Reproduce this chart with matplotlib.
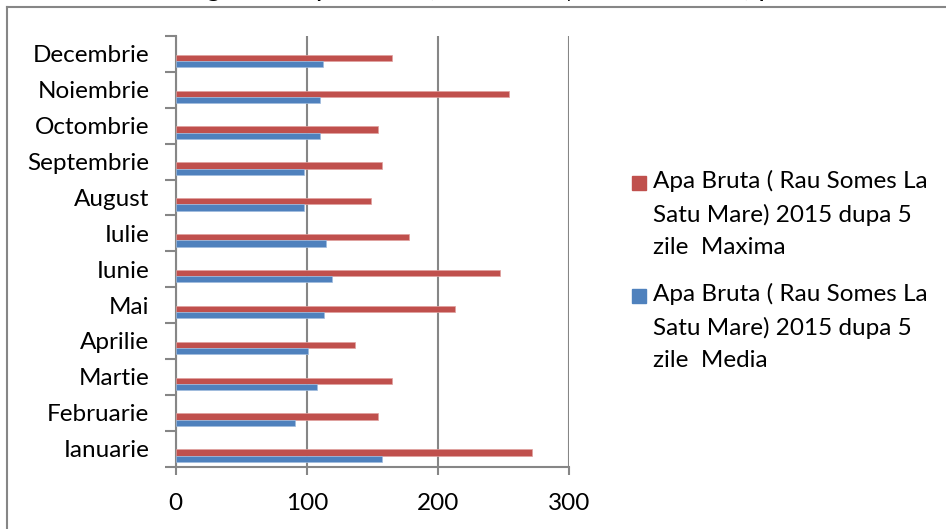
import numpy as np
import matplotlib.pyplot as plt
from matplotlib.patches import Rectangle

plt.rcParams['font.family'] = ['Lato', 'DejaVu Sans']

# data
luni = ['Ianuarie', 'Februarie', 'Martie', 'Aprilie', 'Mai', 'Iunie',
        'Iulie', 'August', 'Septembrie', 'Octombrie', 'Noiembrie', 'Decembrie']
maxima = [272, 154, 165, 137, 213, 247, 178, 149, 157, 154, 254, 165]
media = [157, 91, 108, 101, 113, 119, 115, 98, 98, 110, 110, 112]
serii = ['Apa Bruta ( Rau Somes La\nSatu Mare) 2015 dupa 5\nzile  Maxima',
         'Apa Bruta ( Rau Somes La\nSatu Mare) 2015 dupa 5\nzile  Media']
titlu = 'Figura 2. Apa Bruta ( Rau Someș La Satu Mare) pH'

rosu = '#C0504D'
albastru = '#4F81BD'
gri = '#868686'

W, H = 946, 529
fig = plt.figure(figsize=(W / 100, H / 100), dpi=100)

# outer chart frame (left and top edge visible)
fig.add_artist(plt.Line2D([7 / W, 7 / W], [0, 1 - 7 / H], color=gri, lw=1.5))
fig.add_artist(plt.Line2D([7 / W, 1], [1 - 7 / H, 1 - 7 / H], color=gri, lw=1.5))

# title, cut off at the top as in the original
fig.text(490 / W, 1 + 4 / H, titlu, ha='center', va='baseline', fontsize=20)

ax = fig.add_axes([175.7 / W, 1 - 466.5 / H, (569 - 175.7) / W, (466.5 - 36) / H])

y = np.arange(len(luni))
h = 0.175
ax.barh(y - 0.108, maxima, height=h, color=rosu, edgecolor='#E0A09E', linewidth=0.5, zorder=3)
ax.barh(y - 0.283, media, height=h, color=albastru, edgecolor='#A0BCDE', linewidth=0.5, zorder=3)

ax.set_xlim(0, 300)
ax.set_ylim(-0.5, 11.5)
ax.set_xticks([0, 100, 200, 300])
ax.set_xticklabels(['0', '100', '200', '300'], fontsize=17.5)
ax.set_yticks(y)
ax.set_yticklabels(luni, fontsize=17.5)
ax.set_yticks(np.arange(-0.5, 12, 1), minor=True)
ax.tick_params(axis='y', which='major', length=0, pad=19)
ax.tick_params(axis='y', which='minor', length=8, width=1.5, color=gri, direction='out')
ax.tick_params(axis='x', length=6, width=1.5, color=gri, pad=13)
ax.grid(axis='x', color=gri, lw=1.5, zorder=0)
for s in ['top', 'right']:
    ax.spines[s].set_visible(False)
for s in ['left', 'bottom']:
    ax.spines[s].set_color(gri)
    ax.spines[s].set_linewidth(1.5)

# legend drawn by hand
for i, (lab, col) in enumerate(zip(serii, [rosu, albastru])):
    y0 = 183 + i * 113
    fig.add_artist(Rectangle((632 / W, 1 - (y0 + 7) / H), 14 / W, 14 / H, color=col))
    fig.text(653 / W, 1 - (y0 - 13) / H, lab, ha='left', va='top', fontsize=17.5, linespacing=1.65)

plt.savefig('out.png', dpi=100)
